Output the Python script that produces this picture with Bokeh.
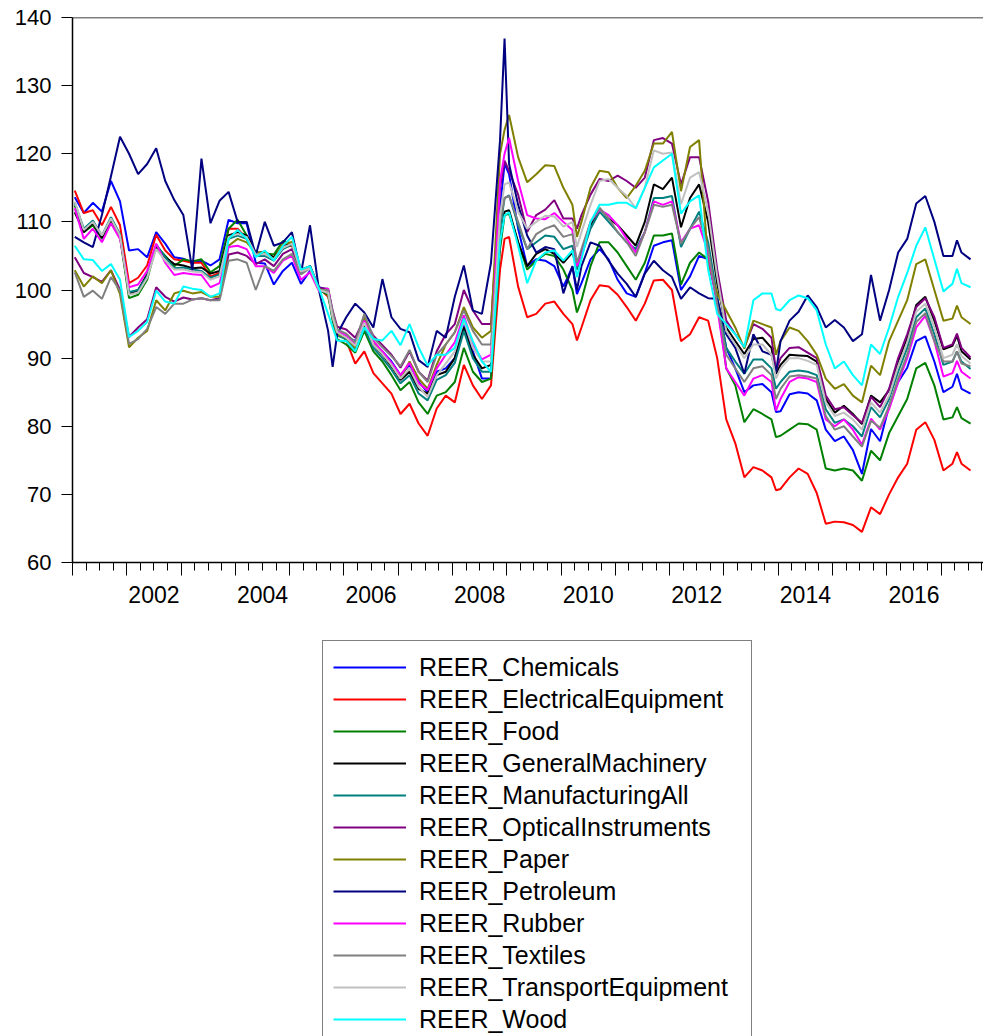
import numpy as np
from bokeh.plotting import figure
from bokeh.layouts import column
from bokeh.models import (Range1d, FixedTicker, LinearAxis, Legend, LegendItem,
                          Span, ColumnDataSource)
from bokeh.embed import file_html
from bokeh.resources import INLINE

month_idx = sorted(set(range(0, 199, 2)) | {57, 95, 111, 155, 195})

chemicals = [
    113.6, 111.3, 112.8, 111.5, 116.0, 113.0, 105.8, 106.0, 104.8, 108.5, 106.8, 104.8, 104.6, 104.0, 104.3,
    103.6, 104.5, 110.3, 109.8, 109.8, 104.0, 103.9, 100.8, 102.8, 104.0, 100.9, 102.8, 100.4,
    100.0, 96.5, 94.0, 93.2, 92.5, 95.5, 92.0, 91.0, 89.5, 87.5, 89.0, 86.5, 85.0, 88.0,
    88.5, 90.0, 95.0, 91.0, 87.0, 87.0, 112.0, 118.5, 117.0, 109.0, 103.5, 104.5, 104.3, 103.5, 100.5,
    103.4, 99.4, 101.0, 104.5, 106.0, 104.5, 101.5, 99.5, 99.0, 102.5, 106.5, 107.0, 107.3, 100.0, 102.0,
    105.0, 104.5, 98.5, 91.5, 88.5, 85.0, 86.0, 86.2, 85.0, 82.1, 82.2, 84.7, 85.0, 84.8, 83.8,
    79.5, 77.8, 78.5, 76.5, 73.0, 79.6, 77.8, 83.0, 86.5, 88.6, 92.5, 93.2, 89.5, 85.0, 85.8, 87.7, 85.5, 84.8]
electrical = [
    114.6, 111.3, 111.7, 109.5, 112.2, 109.5, 101.0, 101.8, 103.6, 108.1, 105.8, 104.5, 104.3, 104.0, 104.0,
    102.0, 102.5, 109.0, 109.0, 107.5, 105.3, 105.6, 104.8, 106.3, 106.5, 102.8, 103.4, 100.3,
    99.0, 96.5, 94.0, 92.6, 89.2, 91.0, 87.8, 86.3, 84.8, 81.8, 83.3, 80.4, 78.6, 82.6,
    84.5, 83.5, 89.0, 86.0, 84.0, 86.0, 103.0, 107.5, 107.8, 100.5, 96.0, 96.5, 98.0, 98.3, 96.5,
    95.0, 92.6, 94.5, 98.5, 100.7, 100.5, 99.3, 97.5, 95.5, 98.0, 101.4, 101.5, 100.0, 92.5, 93.5,
    96.0, 95.5, 90.0, 81.0, 77.5, 72.5, 74.0, 73.5, 72.5, 70.6, 70.8, 72.5, 73.8, 73.0, 70.2,
    65.7, 66.0, 65.9, 65.5, 64.5, 68.1, 67.1, 70.0, 72.5, 74.5, 79.5, 80.6, 78.0, 73.5, 74.5, 76.2, 74.5, 73.5]
food = [
    112.4, 108.5, 109.5, 107.5, 110.0, 107.8, 98.8, 99.3, 101.5, 106.5, 105.0, 103.5, 104.5, 104.2, 104.5,
    102.6, 103.5, 109.0, 110.3, 108.0, 105.3, 105.4, 105.2, 107.2, 106.8, 102.4, 103.5, 100.0,
    99.3, 95.5, 92.8, 92.0, 90.8, 94.0, 91.0, 89.5, 87.5, 85.3, 86.5, 83.5, 81.8, 84.5,
    85.0, 86.5, 91.5, 88.0, 86.5, 87.0, 106.0, 111.0, 111.2, 107.0, 103.0, 104.3, 105.3, 105.0, 103.0,
    100.0, 96.7, 98.5, 103.5, 107.0, 107.0, 105.5, 103.5, 101.5, 104.0, 108.0, 108.0, 108.3, 100.8, 104.0,
    105.5, 104.5, 98.5, 88.5, 86.0, 80.6, 82.5, 81.8, 81.0, 78.4, 78.6, 79.5, 80.4, 80.3, 79.5,
    73.8, 73.5, 73.8, 73.5, 72.0, 76.4, 75.0, 79.0, 81.5, 84.0, 88.5, 89.3, 86.0, 81.0, 81.3, 82.8, 81.2, 80.4]
general_machinery = [
    111.4, 108.5, 109.8, 107.7, 110.4, 108.0, 99.4, 100.0, 102.3, 106.2, 104.8, 103.8, 103.6, 103.2, 103.3,
    102.4, 102.8, 108.0, 108.5, 108.0, 105.5, 105.5, 104.8, 106.5, 107.0, 103.0, 103.5, 100.2,
    99.8, 96.0, 93.6, 93.0, 91.6, 95.0, 92.0, 90.5, 88.8, 86.8, 88.0, 85.5, 84.8, 87.5,
    88.0, 90.0, 94.5, 90.5, 88.5, 89.0, 107.0, 111.5, 111.7, 107.0, 103.5, 105.3, 106.0, 105.3, 104.0,
    105.5, 103.3, 105.5, 109.5, 112.0, 110.5, 109.5, 108.0, 106.5, 110.0, 115.5, 114.8, 116.5, 109.2, 113.5,
    115.5, 110.0, 101.0, 94.5, 92.5, 90.6, 92.8, 93.0, 91.5, 87.7, 89.0, 90.5, 90.4, 90.3, 89.5,
    84.0, 82.0, 83.0, 81.8, 80.3, 84.5, 83.5, 85.3, 89.5, 93.0, 97.8, 99.0, 95.5, 91.3, 91.8, 93.3, 91.0, 89.8]
manufacturing_all = [
    112.8, 109.0, 110.2, 108.0, 110.7, 108.2, 99.7, 100.0, 102.0, 106.7, 104.8, 103.2, 103.3, 103.0, 102.8,
    101.8, 102.3, 107.5, 108.0, 107.5, 105.0, 105.0, 104.3, 106.0, 106.7, 102.6, 103.2, 100.0,
    99.5, 95.8, 93.3, 92.8, 91.3, 94.5, 91.5, 90.0, 88.3, 86.3, 87.5, 84.8, 83.8, 86.8,
    87.5, 89.3, 94.0, 90.0, 88.0, 88.0, 109.0, 113.5, 113.9, 109.5, 106.0, 107.0, 108.0, 107.8, 106.0,
    106.5, 103.0, 105.0, 109.0, 111.5, 110.0, 108.5, 107.0, 106.0, 108.5, 113.5, 113.5, 113.8, 106.3, 109.0,
    111.5, 107.0, 99.0, 91.5, 89.5, 87.7, 89.8, 89.8, 88.5, 85.5, 86.5, 88.0, 88.2, 88.0, 87.5,
    82.5, 80.5, 81.0, 80.0, 78.5, 82.8, 81.3, 84.0, 88.0, 91.5, 96.0, 97.3, 93.5, 89.0, 89.5, 91.0, 89.5, 88.4]
optical = [
    104.8, 102.5, 101.9, 101.2, 102.9, 100.0, 93.1, 94.5, 95.7, 100.4, 99.0, 98.3, 98.9, 98.6, 98.8,
    98.5, 98.8, 105.2, 105.5, 105.0, 103.8, 104.5, 103.5, 105.3, 106.0, 102.6, 103.5, 100.3,
    100.2, 97.0, 94.6, 94.2, 93.0, 95.8, 93.3, 91.9, 90.5, 88.6, 91.0, 88.0, 86.7, 91.0,
    93.5, 95.0, 100.0, 97.0, 95.0, 95.0, 115.0, 119.0, 117.5, 114.0, 108.5, 111.0, 111.8, 113.2, 110.5,
    110.5, 109.0, 111.0, 114.0, 116.3, 116.0, 116.8, 116.0, 115.0, 116.5, 122.0, 122.3, 121.5, 115.5, 119.5,
    119.5, 113.0, 103.0, 95.5, 93.5, 91.6, 95.0, 94.3, 93.0, 88.2, 90.0, 91.5, 91.6, 90.8, 90.0,
    84.5, 82.5, 82.8, 81.6, 80.5, 84.3, 82.8, 85.5, 90.0, 93.5, 97.5, 98.8, 96.0, 91.5, 92.0, 93.6, 91.5, 90.1]
paper = [
    102.9, 100.5, 102.0, 101.0, 102.9, 99.4, 91.6, 93.0, 94.0, 98.5, 97.0, 99.5, 99.9, 99.5, 99.7,
    99.0, 99.0, 106.5, 107.5, 107.0, 105.5, 105.5, 104.5, 106.8, 107.0, 102.8, 103.3, 100.2,
    99.5, 96.0, 93.5, 93.0, 91.5, 96.0, 92.5, 90.8, 89.0, 87.0, 89.5, 87.0, 85.5, 89.0,
    92.0, 93.8, 97.5, 94.5, 93.0, 94.0, 120.0, 123.5, 125.7, 119.5, 115.8, 117.0, 118.3, 118.2, 115.0,
    112.5, 107.8, 110.0, 115.0, 117.5, 117.3, 115.0, 113.5, 115.3, 117.5, 121.5, 121.5, 123.2, 114.5, 121.0,
    122.0, 104.0, 99.5, 97.0, 94.5, 91.4, 95.5, 95.0, 94.5, 90.5, 92.5, 94.5, 94.0, 92.5, 90.5,
    87.0, 85.5, 86.2, 84.5, 83.5, 88.9, 87.5, 92.5, 95.5, 98.5, 103.8, 104.5, 100.0, 95.5, 95.8, 97.7, 96.0, 95.0]
petroleum = [
    107.8, 107.0, 106.3, 111.0, 116.7, 122.5, 120.0, 117.0, 118.5, 120.8, 116.0, 113.2, 111.0, 102.9, 119.3,
    109.8, 113.1, 114.4, 110.0, 110.0, 105.1, 110.0, 106.5, 107.0, 108.5, 102.5, 109.5, 99.9,
    94.0, 88.7, 93.5, 96.0, 98.0, 96.7, 94.5, 101.6, 96.0, 94.3, 93.8, 89.7, 88.7, 94.0,
    93.0, 99.0, 103.6, 97.0, 96.5, 104.0, 122.0, 136.9, 118.5, 112.5, 108.0, 105.5, 106.3, 106.0, 99.5,
    103.5, 100.0, 103.5, 107.0, 106.5, 104.3, 102.4, 100.9, 99.0, 102.4, 104.3, 102.9, 101.9, 98.7, 100.4,
    99.5, 98.8, 98.7, 93.5, 91.5, 87.7, 93.5, 91.0, 90.5, 87.9, 92.5, 95.5, 96.8, 99.2, 97.5,
    94.5, 95.6, 94.5, 92.5, 93.5, 102.2, 95.5, 100.0, 105.5, 107.5, 112.7, 113.8, 110.0, 105.0, 105.0, 107.3, 105.5, 104.5]
rubber = [
    112.0, 107.5, 109.0, 107.0, 109.8, 107.5, 100.4, 100.8, 102.8, 106.8, 104.0, 102.2, 102.5, 102.3, 102.2,
    100.4, 101.0, 106.3, 106.5, 106.0, 103.5, 103.5, 102.5, 104.3, 105.0, 101.5, 102.6, 99.8,
    100.2, 96.5, 94.0, 93.3, 92.0, 95.5, 92.5, 91.0, 89.3, 87.5, 89.3, 86.3, 85.3, 88.5,
    90.5, 92.3, 96.3, 92.0, 89.8, 90.5, 116.0, 120.0, 122.3, 116.0, 111.0, 110.5, 110.4, 111.3, 110.0,
    108.8, 103.5, 105.0, 110.0, 111.8, 111.0, 109.5, 107.5, 105.5, 108.5, 113.0, 112.5, 113.0, 107.0, 109.0,
    109.5, 105.5, 97.5, 88.5, 86.5, 84.5, 87.0, 87.5, 86.5, 82.3, 84.0, 86.5, 87.2, 87.0, 86.5,
    81.0, 80.0, 81.0, 79.5, 77.3, 81.1, 79.5, 82.5, 86.5, 90.0, 94.5, 96.2, 92.5, 87.3, 87.8, 89.6, 88.0, 87.0]
textiles = [
    102.6, 99.0, 99.9, 98.7, 101.9, 99.9, 92.1, 92.8, 94.3, 97.5, 96.5, 98.0, 98.0, 98.6, 98.8,
    98.5, 98.5, 104.3, 104.5, 104.0, 100.0, 103.5, 102.8, 104.5, 105.3, 102.3, 103.2, 100.0,
    100.0, 96.8, 94.2, 93.6, 92.3, 96.5, 93.0, 91.6, 90.3, 88.8, 91.2, 88.0, 86.5, 90.5,
    92.0, 93.8, 97.0, 94.0, 92.0, 92.0, 110.0, 113.5, 113.8, 110.0, 106.0, 108.2, 109.0, 109.5, 107.8,
    108.2, 104.0, 106.0, 110.0, 112.0, 110.5, 108.5, 107.0, 105.0, 108.5, 112.5, 112.2, 112.5, 106.8, 109.0,
    110.7, 106.0, 98.0, 90.5, 88.5, 86.5, 88.5, 88.8, 87.5, 84.0, 85.5, 87.3, 87.5, 87.3, 87.0,
    81.5, 79.5, 80.0, 78.5, 77.0, 80.8, 79.8, 83.0, 87.0, 90.5, 95.3, 96.6, 92.5, 89.5, 89.5, 91.0, 89.2, 88.8]
transport = [
    113.0, 108.8, 110.0, 108.0, 110.5, 108.0, 99.3, 99.6, 101.8, 106.0, 104.3, 103.0, 103.0, 102.7, 102.6,
    101.5, 102.0, 107.8, 108.2, 107.8, 105.2, 105.3, 104.5, 106.2, 106.8, 102.7, 103.2, 100.0,
    99.6, 96.0, 93.8, 93.0, 91.8, 95.2, 92.0, 90.6, 89.0, 87.0, 88.5, 85.8, 84.3, 87.5,
    89.2, 91.0, 95.5, 91.5, 89.5, 89.5, 111.0, 115.5, 115.8, 111.5, 109.0, 110.0, 110.9, 110.8, 109.3,
    110.0, 106.3, 108.5, 112.5, 116.0, 116.3, 115.0, 113.8, 112.0, 115.0, 120.5, 120.0, 120.2, 112.6, 116.5,
    117.3, 111.5, 102.0, 94.0, 92.0, 90.0, 92.0, 92.0, 90.5, 87.0, 88.5, 90.0, 90.0, 89.6, 89.0,
    83.5, 81.5, 82.0, 81.0, 79.5, 83.5, 82.0, 84.5, 88.8, 92.3, 96.8, 98.0, 94.5, 90.0, 90.5, 92.0, 90.3, 89.2]
wood = [
    106.5, 104.5, 104.4, 102.8, 103.8, 101.5, 93.1, 94.0, 95.3, 99.9, 98.3, 98.0, 100.5, 100.2, 100.0,
    99.0, 99.5, 107.5, 108.8, 107.5, 104.8, 105.8, 104.3, 106.5, 107.8, 103.0, 103.5, 100.2,
    96.5, 94.5, 92.6, 92.5, 91.0, 94.5, 92.8, 92.6, 94.0, 91.9, 95.0, 91.6, 88.9, 90.5,
    90.5, 91.5, 95.8, 92.5, 89.5, 88.0, 107.0, 111.0, 111.4, 106.5, 101.0, 104.3, 105.5, 105.8, 104.3,
    105.8, 101.9, 104.5, 110.0, 112.5, 112.5, 112.8, 112.8, 112.0, 115.0, 118.0, 119.0, 120.0, 111.2, 113.0,
    113.9, 103.0, 96.5, 95.0, 93.5, 91.6, 98.5, 99.5, 99.5, 97.2, 97.0, 98.5, 99.2, 98.8, 97.0,
    92.0, 88.5, 89.5, 87.5, 86.0, 92.0, 90.6, 94.5, 99.0, 102.5, 106.5, 109.2, 104.5, 99.8, 100.9, 103.1, 101.0, 100.4]

series_names = ["REER_Chemicals", "REER_ElectricalEquipment", "REER_Food",
                "REER_GeneralMachinery", "REER_ManufacturingAll", "REER_OpticalInstruments",
                "REER_Paper", "REER_Petroleum", "REER_Rubber", "REER_Textiles",
                "REER_TransportEquipment", "REER_Wood"]
series_values = [chemicals, electrical, food, general_machinery, manufacturing_all, optical,
                 paper, petroleum, rubber, textiles, transport, wood]
series_colors = ["#0000FF", "#FF0000", "#008000", "#000000", "#008080", "#800080",
                 "#808000", "#000080", "#FF00FF", "#808080", "#C0C0C0", "#00FFFF"]

year_ticks = list(range(2001, 2019))
label_years = [2002, 2004, 2006, 2008, 2010, 2012, 2014, 2016]
y_ticks = [60, 70, 80, 90, 100, 110, 120, 130, 140]

for s in series_values:
    assert len(s) == len(month_idx), len(s)

x = 2001 + (np.array(month_idx) + 0.5) / 12.0
data = {"x": x}
for i, s in enumerate(series_values):
    data["s%d" % i] = s
src = ColumnDataSource(data)

FONT = "Liberation Sans"
px_per_year = 54.29
TOP_H = 620
p = figure(width=983, height=TOP_H, output_backend="svg", toolbar_location=None,
           x_range=Range1d(2001.0, 2001.0 + 911 / px_per_year),
           y_range=Range1d(60, 140),
           min_border_left=72, min_border_right=0, min_border_top=17,
           min_border_bottom=TOP_H - 17 - 545)
p.outline_line_color = None
p.grid.visible = False
p.background_fill_color = "white"
p.border_fill_color = "white"

# y axis
ya = p.yaxis[0]
ya.ticker = FixedTicker(ticks=y_ticks)
ya.major_tick_out = 11
ya.major_tick_in = 0
ya.minor_tick_line_color = None
ya.major_label_standoff = 10
ya.major_label_text_font = FONT
ya.major_label_text_font_size = "22px"
ya.major_label_text_color = "black"
ya.axis_line_width = 1.5

# x axis: year ticks + quarterly minor ticks, no labels of its own
xa = p.xaxis[0]
xa.ticker = FixedTicker(ticks=year_ticks,
                        minor_ticks=[yr + q / 4 for yr in year_ticks[:-1] for q in range(1, 4)])
xa.major_tick_out = 13
xa.major_tick_in = 0
xa.minor_tick_out = 8
xa.minor_tick_in = 0
xa.major_label_text_color = None
xa.major_label_text_font_size = "1px"
xa.major_label_standoff = 0
xa.axis_line_width = 1.5

# x labels centred inside the labelled years
lab = LinearAxis(ticker=FixedTicker(ticks=[yr + 0.5 for yr in label_years]),
                 major_label_overrides={yr + 0.5: str(yr) for yr in label_years})
lab.axis_line_color = None
lab.major_tick_line_color = None
lab.minor_tick_line_color = None
lab.major_tick_out = 0
lab.major_tick_in = 0
lab.major_label_standoff = 10
lab.major_label_text_font = FONT
lab.major_label_text_font_size = "23px"
lab.major_label_text_color = "black"
p.add_layout(lab, "below")

p.add_layout(Span(location=140, dimension="width", line_color="black", line_width=1.5))

for i, (name, col) in enumerate(zip(series_names, series_colors)):
    p.line("x", "s%d" % i, source=src, line_color=col, line_width=2)

# legend panel below the chart (its own frame shows no data: ranges lie outside the series)
LEG_H = 1036 - TOP_H
q = figure(width=983, height=LEG_H, output_backend="svg", toolbar_location=None,
           x_axis_type=None, y_axis_type=None,
           x_range=Range1d(0, 1), y_range=Range1d(0, 1),
           min_border_left=0, min_border_right=0, min_border_top=0, min_border_bottom=0)
q.outline_line_color = None
q.grid.visible = False
q.background_fill_color = "white"
q.border_fill_color = "white"
leg_renderers = [q.line("x", "s%d" % i, source=src, line_color=col, line_width=2)
                 for i, col in enumerate(series_colors)]
items = [LegendItem(label=n, renderers=[r]) for n, r in zip(series_names, leg_renderers)]
legend_h = 10 * 2 + 32 * len(series_names)
legend_top = 642 - TOP_H
legend = Legend(items=items, location=(250, LEG_H - legend_h - legend_top),
                orientation="vertical",
                margin=0, padding=10, spacing=0,
                glyph_width=73, glyph_height=32, label_height=32, label_width=322,
                label_standoff=13,
                label_text_font=FONT, label_text_font_size="25px",
                label_text_color="black",
                border_line_color="black", border_line_width=1,
                background_fill_color="white", background_fill_alpha=1.0)
q.add_layout(legend)

layout = column(p, q, spacing=0)
open("out.html", "w").write(file_html(layout, INLINE))
